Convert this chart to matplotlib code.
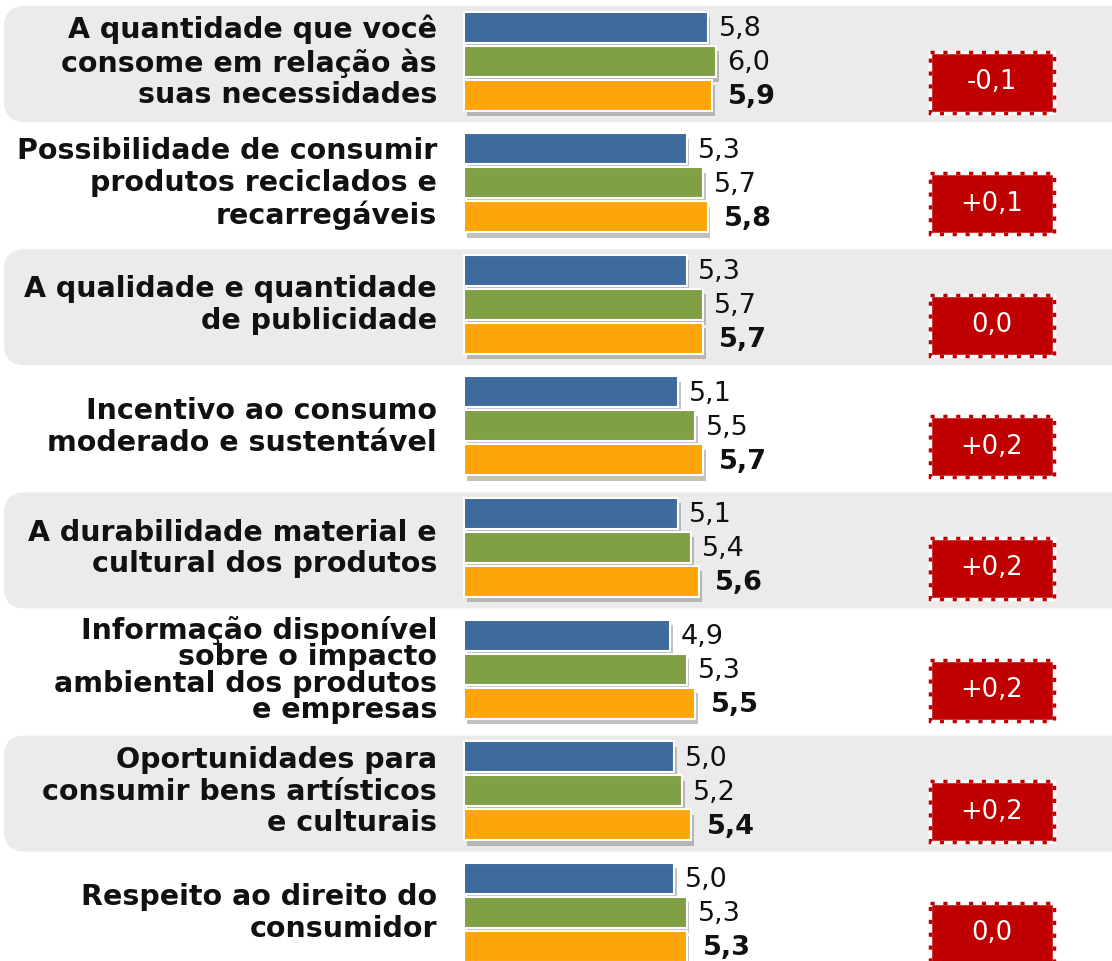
import matplotlib
matplotlib.use("Agg")
import matplotlib.pyplot as plt
import matplotlib.patheffects as pe
from matplotlib.patches import FancyBboxPatch, Rectangle
import numpy as np

categories = [
    "A quantidade que você\nconsome em relação às\nsuas necessidades",
    "Possibilidade de consumir\nprodutos reciclados e\nrecarregáveis",
    "A qualidade e quantidade\nde publicidade",
    "Incentivo ao consumo\nmoderado e sustentável",
    "A durabilidade material e\ncultural dos produtos",
    "Informação disponível\nsobre o impacto\nambiental dos produtos\ne empresas",
    "Oportunidades para\nconsumir bens artísticos\ne culturais",
    "Respeito ao direito do\nconsumidor",
]
series_blue = [5.8, 5.3, 5.3, 5.1, 5.1, 4.9, 5.0, 5.0]
series_green = [6.0, 5.7, 5.7, 5.5, 5.4, 5.3, 5.2, 5.3]
series_orange = [5.9, 5.8, 5.7, 5.7, 5.6, 5.5, 5.4, 5.3]
differences = ["-0,1", "+0,1", "0,0", "+0,2", "+0,2", "+0,2", "+0,2", "0,0"]

W, H = 1112, 961
fig = plt.figure(figsize=(W / 100, H / 100), dpi=100)
ax = fig.add_axes([0, 0, 1, 1])

px_x = 42.0      # pixels per value unit
x0 = 464.0       # pixel of zero
px_y = 121.6     # pixels per group
y0 = 61.0        # pixel of first group centre

ax.set_xlim(-x0 / px_x, (W - x0) / px_x)
ax.set_ylim((H - y0) / px_y, -y0 / px_y)
ax.axis("off")

n = len(categories)
idx = np.arange(n)

# background bands
for i in range(0, n, 2):
    band = FancyBboxPatch((-(x0 - 4) / px_x, i - 55 / px_y), (W + 20) / px_x, 116 / px_y,
                          boxstyle="round,pad=0,rounding_size=0.5",
                          mutation_aspect=px_x / px_y,
                          facecolor="#EBEBEB", edgecolor="none", zorder=0)
    ax.add_patch(band)

off = 34 / px_y
h = 31 / px_y
colors = ["#3E6A9E", "#80A046", "#FFA50A"]
shadow = [pe.SimplePatchShadow(offset=(2, -4), shadow_rgbFace="#666666", alpha=0.4), pe.Normal()]
for k, (vals, col) in enumerate(zip([series_blue, series_green, series_orange], colors)):
    ys = idx + (k - 1) * off
    bars = ax.barh(ys, vals, height=h, color=col, edgecolor="white", linewidth=1.5, zorder=2)
    for b in bars:
        b.set_path_effects(shadow)
    for y, v in zip(ys, vals):
        txt = f"{v:.1f}".replace(".", ",")
        ax.text(v + (16 if k == 2 else 11) / px_x, y + 2 / px_y, txt, ha="left", va="center",
                fontsize=19.5, fontweight="bold" if k == 2 else "normal",
                color="#111111", zorder=3)

# category labels
for i, c in enumerate(categories):
    nlines = c.count("\n") + 1
    ax.text(-27 / px_x, i + 1 / px_y, c, ha="right", va="center", fontsize=20.5,
            fontweight="bold", color="#111111",
            linespacing=0.93 if nlines >= 4 else 1.16, zorder=3)

# difference boxes
bx = (930 - x0) / px_x
bw = 124 / px_x
bh = 61 / px_y
for i, d in enumerate(differences):
    cy = i + 21 / px_y
    ax.add_patch(Rectangle((bx, cy - bh / 2), bw, bh, facecolor="#C00000",
                           edgecolor="white", linewidth=2.5, zorder=3))
    ax.add_patch(Rectangle((bx, cy - bh / 2), bw, bh, facecolor="none",
                           edgecolor="#C00000", linewidth=2.5,
                           linestyle=(0, (1.2, 2.5)), zorder=4))
    ax.text(bx + bw / 2, cy, d, ha="center", va="center", fontsize=18.5,
            color="white", zorder=5)

fig.savefig("out.png", dpi=100)
